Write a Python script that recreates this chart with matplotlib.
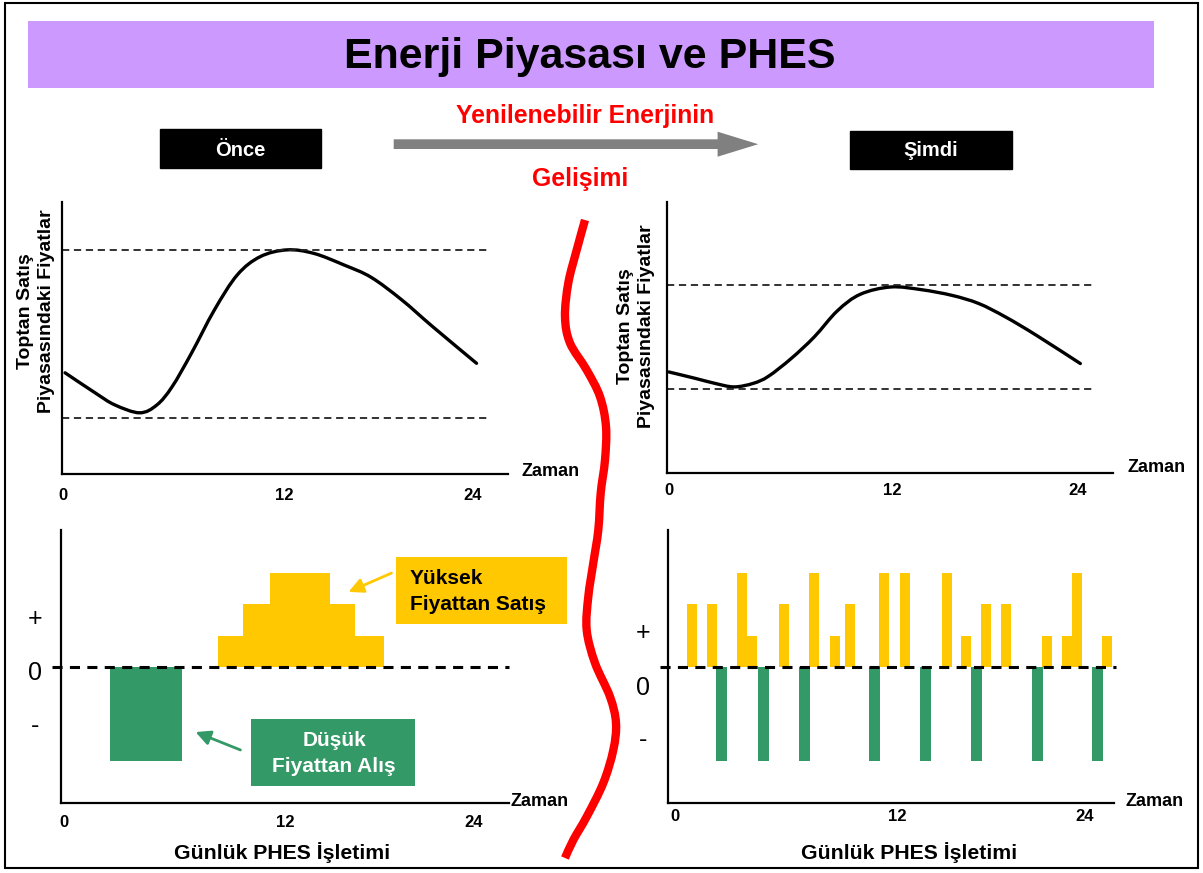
import numpy as np
import matplotlib.pyplot as plt
from matplotlib.patches import Rectangle, Polygon, PathPatch
from matplotlib.path import Path

plt.rcParams['font.family'] = ['Liberation Sans', 'DejaVu Sans']

YELLOW = '#FFC800'
GREEN = '#339966'

# wholesale price over the day (hour, relative price)
before_hours = [0.18, 1.97, 3.09, 4.54, 5.55, 6.44, 7.57, 8.91, 10.25, 11.59, 13.16,
                14.73, 16.51, 18.08, 19.87, 21.67, 24.24]
before_price = [3.72, 2.97, 2.54, 2.25, 2.54, 3.21, 4.44, 6.03, 7.32, 7.99, 8.24,
                8.11, 7.68, 7.23, 6.40, 5.42, 4.07]
before_band = [2.05, 8.24]

now_hours = [0.11, 1.68, 2.80, 3.92, 5.04, 5.93, 7.27, 8.61, 9.96, 11.30, 13.09,
             14.88, 16.67, 18.23, 19.81, 21.60, 24.17]
now_price = [3.74, 3.50, 3.32, 3.19, 3.32, 3.58, 4.24, 5.03, 5.99, 6.60, 6.87,
             6.77, 6.56, 6.26, 5.76, 5.09, 4.05]
now_band = [3.10, 6.96]

# PHES operation before: (start hour, end hour, level)
before_buy_start = [2.84]
before_buy_end = [7.05]
before_buy_level = [-3]
before_sell_start = [9.13, 10.60, 12.14]
before_sell_end = [18.81, 17.10, 15.63]
before_sell_level = [1, 2, 3]

# PHES operation now: bar start hour and level
now_sell_hours = [1.07, 2.21, 3.96, 4.53, 6.33, 8.04, 9.26, 10.11, 12.06, 13.26,
                  15.64, 16.73, 17.87, 19.01, 21.37, 22.53, 23.10, 24.82]
now_sell_level = [2, 2, 3, 1, 2, 3, 1, 2, 3, 3, 3, 1, 2, 2, 1, 1, 3, 1]
now_buy_hours = [2.74, 5.16, 7.47, 11.49, 14.42, 17.30, 20.80, 24.25]
now_buy_level = [-3, -3, -3, -3, -3, -3, -3, -3]

ylabel_text = 'Toptan Satış\nPiyasasındaki Fiyatlar'

W, H = 1203, 873
fig = plt.figure(figsize=(W / 100, H / 100), dpi=100)


def px_axes(x0, y0, x1, y1):
    return fig.add_axes([x0 / W, 1 - y1 / H, (x1 - x0) / W, (y1 - y0) / H])


def smooth_path(xs, ys):
    # bezier path through the given points (catmull-rom tangents)
    p = np.column_stack([xs, ys]).astype(float)
    verts, codes = [p[0]], [Path.MOVETO]
    n = len(p)
    for i in range(n - 1):
        p0 = p[max(i - 1, 0)]
        p3 = p[min(i + 2, n - 1)]
        verts += [p[i] + (p[i + 1] - p0) / 6, p[i + 1] - (p3 - p[i]) / 6, p[i + 1]]
        codes += [Path.CURVE4] * 3
    return Path(verts, codes)


def style(ax, ticks, pad):
    for s in ['top', 'right']:
        ax.spines[s].set_visible(False)
    for s in ['left', 'bottom']:
        ax.spines[s].set_linewidth(1.6)
    ax.set_yticks([])
    ax.set_xticks(ticks, ['0', '12', '24'])
    ax.tick_params(axis='x', length=0, pad=pad, labelsize=12)
    for t in ax.get_xticklabels():
        t.set_fontweight('bold')


# top left: prices before
ax1 = px_axes(62, 202, 508, 474)
ax1.set_xlim(0, 26.08)
ax1.set_ylim(0, 10)
for b in before_band:
    ax1.plot([0, 25.03], [b, b], color='#222222', lw=1.3, dashes=(4, 2.6))
ax1.add_patch(PathPatch(smooth_path(before_hours, before_price), fill=False,
                        edgecolor='black', lw=2.4, capstyle='round'))
style(ax1, [0.06, 13.0, 24.0], 10)
ax1.text(-0.058, 0.599, ylabel_text, transform=ax1.transAxes, rotation=90,
         ha='center', va='center', fontsize=14, fontweight='bold',
         multialignment='center', linespacing=1.3)

# top right: prices now
ax2 = px_axes(667, 202, 1113, 473.5)
ax2.set_xlim(0, 26.08)
ax2.set_ylim(0, 10)
for b in now_band:
    ax2.plot([0, 24.95], [b, b], color='#222222', lw=1.3, dashes=(4, 2.6))
ax2.add_patch(PathPatch(smooth_path(now_hours, now_price), fill=False,
                        edgecolor='black', lw=2.4, capstyle='round'))
style(ax2, [0.12, 13.2, 24.04], 7)
ax2.text(-0.069, 0.543, ylabel_text, transform=ax2.transAxes, rotation=90,
         ha='center', va='center', fontsize=14, fontweight='bold',
         multialignment='center', linespacing=1.3)

# bottom left: PHES operation before
ax3 = px_axes(61, 530, 509, 803)
ax3.set_xlim(0, 26.05)
ax3.set_ylim(-4.345, 4.377)
ax3.bar(before_buy_start, before_buy_level,
        width=[e - s for s, e in zip(before_buy_start, before_buy_end)],
        align='edge', color=GREEN, linewidth=0)
ax3.bar(before_sell_start, before_sell_level,
        width=[e - s for s, e in zip(before_sell_start, before_sell_end)],
        align='edge', color=YELLOW, linewidth=0)
ax3.plot([-0.55, 26.05], [0, 0], color='black', lw=2.2, dashes=(3.3, 2.4), clip_on=False)
style(ax3, [0.19, 13.02, 24.0], 8.5)
ax3.text(0.493, -0.183, 'Günlük PHES İşletimi', transform=ax3.transAxes,
         ha='center', va='center', fontsize=15.3, fontweight='bold')

# bottom right: PHES operation now
ax4 = px_axes(668, 530, 1114, 803)
ax4.set_xlim(0, 25.49)
ax4.set_ylim(-4.345, 4.377)
ax4.bar(now_sell_hours, now_sell_level, width=0.57, align='edge', color=YELLOW, linewidth=0)
ax4.bar(now_buy_hours, now_buy_level, width=0.63, align='edge', color=GREEN, linewidth=0)
ax4.plot([-0.45, 25.6], [0, 0], color='black', lw=2.2, dashes=(3.3, 2.4), clip_on=False)
style(ax4, [0.4, 13.09, 23.83], 4.5)
ax4.text(0.540, -0.183, 'Günlük PHES İşletimi', transform=ax4.transAxes,
         ha='center', va='center', fontsize=15.3, fontweight='bold')

# overlay in pixel coordinates for the slide decorations
ov = fig.add_axes([0, 0, 1, 1], zorder=5)
ov.set_xlim(0, W)
ov.set_ylim(H, 0)
ov.axis('off')
ov.patch.set_alpha(0)

ov.add_patch(Rectangle((5, 3), 1193, 865, fill=False, lw=1.5, edgecolor='black'))
ov.add_patch(Rectangle((28, 21), 1125.5, 66.5, color='#CC99FF', lw=0))
ov.text(589.5, 68, 'Enerji Piyasası ve PHES', ha='center', va='baseline',
        fontsize=31, fontweight='bold')

ov.add_patch(Rectangle((159.6, 129.3), 161.2, 39, color='black'))
ov.text(240, 150, 'Önce', ha='center', va='center', color='white', fontsize=14.5, fontweight='bold')
ov.add_patch(Rectangle((849.6, 130.7), 162, 38.6, color='black'))
ov.text(930.5, 151, 'Şimdi', ha='center', va='center', color='white', fontsize=14.5, fontweight='bold')

ov.add_patch(Polygon([(393.7, 139.3), (717.6, 139.3), (717.6, 131.7), (758.2, 144.2),
                      (717.6, 156.7), (717.6, 149), (393.7, 149)], closed=True,
                     color='#808080', lw=0))
ov.text(585, 123, 'Yenilenebilir Enerjinin', ha='center', va='baseline',
        color='#FF0000', fontsize=17.8, fontweight='bold')
ov.text(580, 186, 'Gelişimi', ha='center', va='baseline',
        color='#FF0000', fontsize=17.8, fontweight='bold')

# red wavy separator
wave_x = [585, 576.7, 568.3, 565, 570, 586.7, 600, 606, 605, 600.7, 598.3, 593.3,
          588.3, 586.7, 595, 610, 616, 613.3, 603.3, 586.7, 573.3, 565]
wave_y = [220, 250, 283, 316.7, 343, 370, 396.7, 426.7, 460, 493, 530, 563,
          596.7, 630, 663, 696.7, 723, 750, 783, 816.7, 840, 858]
ov.add_patch(PathPatch(smooth_path(wave_x, wave_y), fill=False, edgecolor='#FF0000',
                       lw=6, capstyle='butt', joinstyle='round'))

# annotation boxes
ov.add_patch(Rectangle((396, 557), 171, 67, color=YELLOW, lw=0))
ov.text(409.5, 578, 'Yüksek', ha='left', va='center', fontsize=15, fontweight='bold')
ov.text(409.5, 605, 'Fiyattan Satış', ha='left', va='center', fontsize=15, fontweight='bold')
ov.annotate('', xy=(346, 593), xytext=(394, 572),
            arrowprops=dict(arrowstyle='-|>', color=YELLOW, lw=2, mutation_scale=22))
ov.add_patch(Rectangle((251, 719), 164, 67, color=GREEN, lw=0))
ov.text(334, 740, 'Düşük', ha='center', va='center', color='white', fontsize=15, fontweight='bold')
ov.text(334, 767, 'Fiyattan Alış', ha='center', va='center', color='white', fontsize=15, fontweight='bold')
ov.annotate('', xy=(193, 731), xytext=(243, 751),
            arrowprops=dict(arrowstyle='-|>', color=GREEN, lw=2, mutation_scale=22))

# axis end labels
for x, y in [(550.5, 472), (1157, 467), (539.5, 802), (1155, 802)]:
    ov.text(x, y, 'Zaman', ha='center', va='center', fontsize=13, fontweight='bold')
for x, ys in [(35, (619, 673, 726)), (643, (633, 688, 740))]:
    for s, y in zip(['+', '0', '-'], ys):
        ov.text(x, y, s, ha='center', va='center', fontsize=18)

fig.savefig('out.png', dpi=100)
